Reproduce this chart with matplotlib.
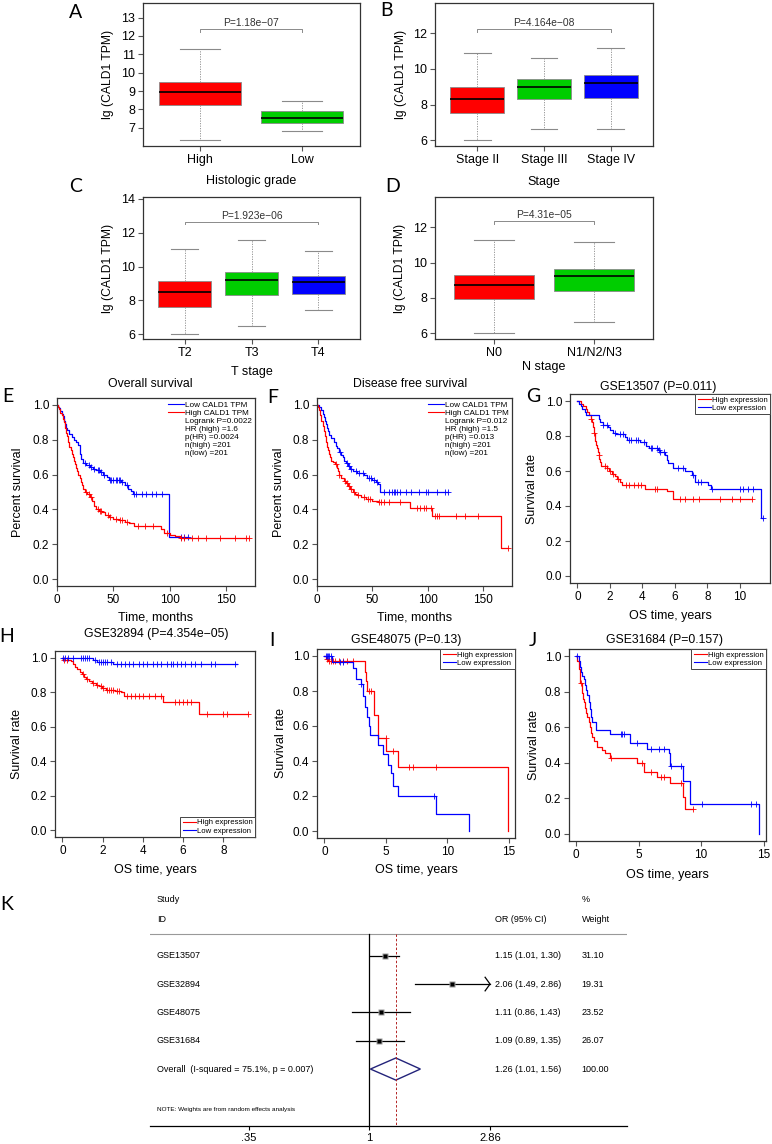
import numpy as np
import matplotlib
matplotlib.use("Agg")
import matplotlib.pyplot as plt
from matplotlib.lines import Line2D
from matplotlib.patches import Polygon
from matplotlib.transforms import blended_transform_factory

plt.rcParams['font.family'] = ['Liberation Sans', 'DejaVu Sans']

W, H = 772, 1144
fig = plt.figure(figsize=(W / 100, H / 100), dpi=100)


def add_ax(l, t, r, b):
    return fig.add_axes([l / W, 1 - b / H, (r - l) / W, (b - t) / H])


# ---------------- box plot data (A-D) ----------------
A_labels = ['High', 'Low']
A_lo = [6.35, 6.80]
A_q1 = [8.22, 7.27]
A_med = [8.95, 7.53]
A_q3 = [9.50, 7.93]
A_hi = [11.27, 8.48]

B_labels = ['Stage II', 'Stage III', 'Stage IV']
B_lo = [6.0, 6.62, 6.62]
B_q1 = [7.53, 8.29, 8.36]
B_med = [8.32, 9.0, 9.24]
B_q3 = [8.98, 9.43, 9.65]
B_hi = [10.88, 10.6, 11.17]

C_labels = ['T2', 'T3', 'T4']
C_lo = [6.0, 6.47, 7.44]
C_q1 = [7.62, 8.33, 8.37]
C_med = [8.51, 9.2, 9.1]
C_q3 = [9.12, 9.65, 9.47]
C_hi = [11.03, 11.54, 10.91]

D_labels = ['N0', 'N1/N2/N3']
D_lo = [6.0, 6.6]
D_q1 = [7.91, 8.36]
D_med = [8.73, 9.24]
D_q3 = [9.3, 9.65]
D_hi = [11.26, 11.17]

box_colors = ['#FF0000', '#00CD00', '#0000FF']

# ---------------- survival data (E-J): step times, survival after step, censor times ----------------
E_low_t = [1, 2, 3, 4, 5, 6, 7, 8, 9, 11, 13, 15, 17, 19, 20, 21, 23, 26, 29, 32, 35, 38, 41, 44, 46, 57, 60, 63, 66, 67, 99]
E_low_s = [0.99, 0.98, 0.965, 0.95, 0.935, 0.91, 0.89, 0.87, 0.855, 0.835, 0.815, 0.80, 0.785, 0.77, 0.72, 0.69, 0.665,
           0.655, 0.645, 0.635, 0.625, 0.615, 0.60, 0.585, 0.568, 0.555, 0.54, 0.52, 0.505, 0.488, 0.243]
E_low_c = [25, 28, 30, 33, 36, 37, 39, 42, 47, 48, 50, 52, 53, 55, 56, 58, 62, 68, 70, 75, 79, 84, 88, 93, 110, 113, 116.6]
E_high_t = [1, 2, 3, 4, 5, 6, 7, 8, 9, 10, 11, 12, 13, 14, 15, 16, 17, 18, 19, 20, 21, 22, 23, 25, 27, 29, 31, 33, 35, 37,
            40, 43, 46, 50, 55, 60, 64, 68, 92, 95, 100, 105, 109]
E_high_s = [0.99, 0.975, 0.955, 0.94, 0.92, 0.90, 0.87, 0.84, 0.82, 0.79, 0.76, 0.74, 0.72, 0.70, 0.68, 0.66, 0.64, 0.62,
            0.60, 0.58, 0.56, 0.54, 0.52, 0.50, 0.49, 0.47, 0.45, 0.42, 0.40, 0.39, 0.385, 0.37, 0.355, 0.345, 0.34, 0.33,
            0.32, 0.306, 0.29, 0.265, 0.255, 0.245, 0.238]
E_high_c = [26, 28, 30, 36, 38, 39, 45, 47, 52, 56, 58, 62, 72, 78, 85, 98, 110, 113, 120, 125, 132, 145, 158, 168, 170]
E_legend = ['Low CALD1 TPM', 'High CALD1 TPM', 'Logrank P=0.0022', 'HR (high) =1.6', 'p(HR) =0.0024',
            'n(high) =201', 'n(low) =201']

F_low_t = [2, 4, 5, 6, 7, 8, 9, 10, 11, 13, 15, 17, 18, 20, 22, 23, 24, 26, 28, 30, 32, 36, 42, 45, 50, 53, 55, 57]
F_low_s = [0.99, 0.97, 0.95, 0.93, 0.91, 0.89, 0.87, 0.85, 0.83, 0.81, 0.79, 0.765, 0.75, 0.73, 0.715, 0.70, 0.68, 0.665,
           0.65, 0.635, 0.62, 0.61, 0.595, 0.58, 0.57, 0.56, 0.545, 0.50]
F_low_c = [21, 27, 29, 31, 35, 38, 41, 47, 49, 51, 54, 60, 65, 68, 69, 70, 72, 75, 80, 85, 92, 98, 100, 108, 115, 118]
F_high_t = [1, 2, 3, 4, 5, 6, 7, 8, 9, 10, 11, 12, 13, 14, 16, 18, 19, 20, 22, 24, 26, 28, 30, 32, 34, 36, 40, 44, 50, 55,
            84, 104, 166]
F_high_s = [0.99, 0.97, 0.94, 0.91, 0.88, 0.85, 0.82, 0.79, 0.76, 0.74, 0.72, 0.70, 0.68, 0.67, 0.66, 0.64, 0.62, 0.60,
            0.58, 0.565, 0.55, 0.535, 0.52, 0.50, 0.49, 0.48, 0.47, 0.46, 0.45, 0.44, 0.41, 0.365, 0.18]
F_high_c = [17, 20, 25, 27, 29, 31, 33, 37, 42, 46, 48, 56, 58, 60, 65, 75, 90, 93, 96, 98, 103, 106, 108, 110, 125, 133,
            145, 172]
F_legend = ['Low CALD1 TPM', 'High CALD1 TPM', 'Logrank P=0.012', 'HR (high) =1.5', 'p(HR) =0.013',
            'n(high) =201', 'n(low) =201']

G_high_t = [0.2, 0.35, 0.5, 0.6, 0.72, 0.82, 0.9, 0.95, 1.0, 1.05, 1.1, 1.15, 1.2, 1.25, 1.3, 1.35, 1.4, 1.45, 1.8, 1.95,
            2.1, 2.3, 2.45, 2.6, 2.75, 4.15, 5.5, 5.9]
G_high_s = [0.985, 0.97, 0.955, 0.94, 0.92, 0.90, 0.88, 0.85, 0.82, 0.79, 0.77, 0.75, 0.73, 0.71, 0.69, 0.67, 0.65, 0.63,
            0.615, 0.60, 0.585, 0.57, 0.555, 0.54, 0.52, 0.50, 0.485, 0.44]
G_high_c = [0.85, 1.0, 1.3, 1.7, 1.8, 2.0, 2.2, 2.5, 3.0, 3.2, 3.5, 3.7, 3.9, 4.8, 4.9, 6.3, 6.6, 7.1, 7.5, 8.8, 9.5, 10.0,
            10.75]
G_low_t = [0.1, 0.2, 0.3, 0.45, 0.55, 1.3, 1.4, 1.55, 1.9, 2.0, 2.2, 2.35, 2.95, 3.05, 3.85, 4.25, 4.4, 4.95, 5.1, 5.4,
           5.5, 5.6, 5.9, 6.6, 7.05, 7.25, 8.05, 8.2, 11.3]
G_low_s = [0.985, 0.97, 0.955, 0.94, 0.92, 0.90, 0.88, 0.865, 0.85, 0.835, 0.82, 0.81, 0.795, 0.78, 0.765, 0.745, 0.73,
           0.72, 0.71, 0.69, 0.665, 0.645, 0.62, 0.60, 0.575, 0.54, 0.52, 0.50, 0.33]
G_low_c = [1.6, 1.8, 2.3, 2.6, 2.8, 3.2, 3.3, 3.6, 3.7, 4.1, 4.5, 4.6, 4.9, 5.0, 5.1, 5.3, 6.2, 6.5, 7.1, 7.4, 7.6, 8.3,
           10.0, 10.2, 10.5, 10.8, 11.45]

H_high_t = [0.05, 0.45, 0.52, 0.6, 0.7, 0.85, 0.95, 1.05, 1.15, 1.3, 1.45, 1.65, 1.8, 1.95, 2.15, 2.6, 2.9, 3.05, 5.0, 6.8]
H_high_s = [0.99, 0.98, 0.965, 0.95, 0.935, 0.92, 0.905, 0.89, 0.875, 0.865, 0.855, 0.845, 0.835, 0.825, 0.815, 0.81,
            0.80, 0.78, 0.745, 0.672]
H_high_c = [0.1, 0.25, 1.0, 1.2, 1.5, 1.7, 1.9, 2.0, 2.2, 2.3, 2.4, 2.5, 2.7, 2.8, 3.2, 3.4, 3.6, 3.8, 4.0, 4.3, 4.6, 4.9,
            5.6, 5.8, 6.0, 6.2, 6.4, 7.2, 8.0, 8.2, 9.2]
H_low_t = [1.5, 1.7, 2.5]
H_low_s = [0.985, 0.975, 0.962]
H_low_c = [0.05, 0.15, 0.3, 0.5, 0.9, 1.0, 1.1, 1.2, 1.3, 1.6, 1.8, 1.9, 2.0, 2.1, 2.2, 2.4, 2.7, 2.9, 3.1, 3.3, 3.5, 3.8,
           4.0, 4.2, 4.5, 4.7, 4.9, 5.2, 5.4, 5.5, 5.7, 5.9, 6.1, 6.4, 6.6, 6.9, 7.4, 7.6, 8.6]

I_high_t = [0.15, 0.3, 3.3, 3.4, 3.5, 4.0, 4.35, 5.05, 6.0, 14.95]
I_high_s = [0.985, 0.97, 0.91, 0.86, 0.80, 0.665, 0.53, 0.46, 0.365, 0.0]
I_high_c = [0.2, 0.4, 0.5, 0.7, 0.9, 1.2, 1.5, 1.8, 2.3, 3.6, 3.8, 5.0, 5.6, 6.9, 7.2, 9.1]
I_low_t = [0.6, 2.35, 2.55, 3.0, 3.15, 3.3, 3.45, 3.6, 3.75, 4.35, 4.8, 5.2, 5.45, 5.6, 5.95, 9.1, 11.75]
I_low_s = [0.965, 0.93, 0.87, 0.84, 0.77, 0.71, 0.65, 0.60, 0.55, 0.49, 0.44, 0.38, 0.33, 0.26, 0.20, 0.10, 0.0]
I_low_c = [0.1, 0.2, 0.3, 0.4, 0.5, 1.3, 1.5, 3.0, 8.9]

J_high_t = [0.1, 0.2, 0.3, 0.45, 0.55, 0.6, 0.7, 0.8, 0.9, 1.0, 1.1, 1.15, 1.25, 1.4, 1.65, 2.05, 2.3, 2.7, 4.9, 5.4,
            6.5, 7.5, 8.55, 8.7]
J_high_s = [0.97, 0.93, 0.85, 0.79, 0.76, 0.74, 0.71, 0.68, 0.66, 0.63, 0.60, 0.57, 0.545, 0.52, 0.49, 0.47, 0.455, 0.425,
            0.40, 0.35, 0.32, 0.285, 0.21, 0.14]
J_high_c = [0.35, 2.8, 5.3, 6.0, 6.8, 7.0, 8.4, 9.34]
J_low_t = [0.2, 0.3, 0.4, 0.5, 0.6, 0.7, 0.8, 0.9, 1.0, 1.1, 1.15, 1.3, 1.55, 2.7, 4.3, 5.65, 7.4, 7.55, 8.55, 9.15, 14.6]
J_low_s = [0.97, 0.94, 0.91, 0.89, 0.87, 0.84, 0.81, 0.78, 0.74, 0.70, 0.66, 0.63, 0.586, 0.563, 0.51, 0.48, 0.455, 0.38,
           0.295, 0.168, 0.0]
J_low_c = [0.1, 3.6, 3.7, 3.8, 4.9, 6.0, 6.6, 7.0, 7.6, 8.4, 10.1, 14.0, 14.4]

# ---------------- forest plot data (K) ----------------
K_studies = ['GSE13507', 'GSE32894', 'GSE48075', 'GSE31684']
K_or = [1.15, 2.06, 1.11, 1.09]
K_lo = [1.01, 1.49, 0.86, 0.89]
K_hi = [1.30, 2.86, 1.43, 1.35]
K_weight = ['31.10', '19.31', '23.52', '26.07']
K_overall = [1.26, 1.01, 1.56]
K_overall_label = 'Overall  (I-squared = 75.1%, p = 0.007)'
K_ticks = [0.35, 1, 2.86]
K_ticklabels = ['.35', '1', '2.86']

# ---------------- drawing helpers ----------------
frame_col = '#333333'


def style_frame(ax, fs):
    for s in ax.spines.values():
        s.set_color(frame_col)
        s.set_linewidth(0.9)
    ax.tick_params(direction='out', length=3.5, width=0.8, color='#555555', labelsize=fs, pad=2)


def box_panel(ax, labels, lo, q1, med, q3, hi, pval, ybr, ylim, xlim, yticks, xlabel, lx, ly):
    stats = [dict(whislo=lo[i], q1=q1[i], med=med[i], q3=q3[i], whishi=hi[i], fliers=[])
             for i in range(len(labels))]
    pos = list(range(1, len(labels) + 1))
    bp = ax.bxp(stats, positions=pos, widths=0.8, patch_artist=True, capwidths=0.4,
                boxprops=dict(edgecolor='#8a8a8a', linewidth=0.6),
                whiskerprops=dict(color='#8a8a8a', linewidth=0.6, linestyle=(0, (1.5, 1.5))),
                capprops=dict(color='#8a8a8a', linewidth=0.8),
                medianprops=dict(color='black', linewidth=1.2))
    for patch, c in zip(bp['boxes'], box_colors):
        patch.set_facecolor(c)
    x1, x2 = pos[0], pos[-1]
    ax.plot([x1, x1, x2, x2], [ybr - 0.16, ybr, ybr, ybr - 0.16], color='#8a8a8a', lw=0.7)
    ax.text((x1 + x2) / 2, ybr + 0.06, pval, ha='center', va='bottom', fontsize=7.4, color='#333333')
    ax.set_xlim(*xlim)
    ax.set_ylim(*ylim)
    ax.set_yticks(yticks)
    ax.set_xticks(pos)
    ax.set_xticklabels(labels)
    ax.set_ylabel('lg (CALD1 TPM)', fontsize=8.7)
    ax.set_xlabel(xlabel, fontsize=9)
    ax.yaxis.set_label_coords(lx, 0.5)
    ax.xaxis.set_label_coords(0.5, ly)
    style_frame(ax, 9)


def km(ax, t, s, cens, t_end, color):
    xs = [0] + list(t) + [t_end]
    ys = [1.0] + list(s) + [s[-1]]
    ax.step(xs, ys, where='post', color=color, lw=0.9)
    idx = np.searchsorted(np.array(t), np.array(cens), side='right')
    cy = [1.0 if i == 0 else s[i - 1] for i in idx]
    ax.plot(cens, cy, linestyle='none', marker='+', ms=4.5, mew=0.6, color=color)


def km_frame(ax, xlim, xticks, xlabel, ylabel, lx, ly, title=None, tx=None, ty=None):
    ax.set_xlim(*xlim)
    ax.set_ylim(-0.04, 1.04)
    ax.set_xticks(xticks)
    ax.set_yticks([0, 0.2, 0.4, 0.6, 0.8, 1.0])
    ax.set_yticklabels(['0.0', '0.2', '0.4', '0.6', '0.8', '1.0'])
    ax.set_xlabel(xlabel, fontsize=9)
    ax.set_ylabel(ylabel, fontsize=9)
    ax.yaxis.set_label_coords(lx, 0.5)
    ax.xaxis.set_label_coords(0.5, ly)
    style_frame(ax, 8.5)
    if title:
        fig.text(tx / W, 1 - ty / H, title, ha='center', va='center', fontsize=8.8)


def gepia_legend(ax, labels):
    handles = [Line2D([], [], color='#0000FF', lw=0.8), Line2D([], [], color='#FF0000', lw=0.8)]
    handles += [Line2D([], [], color='none')] * (len(labels) - 2)
    ax.legend(handles, labels, loc='upper right', frameon=False, fontsize=5.9, handlelength=2.0,
              handletextpad=0.15, labelspacing=0.05, borderpad=0.1, borderaxespad=0.25)


def geo_legend(ax, loc):
    handles = [Line2D([], [], color='#FF0000', lw=0.8), Line2D([], [], color='#0000FF', lw=0.8)]
    leg = ax.legend(handles, ['High expression', 'Low expression'], loc=loc, frameon=True, fancybox=False,
                    edgecolor='#444444', framealpha=1, fontsize=5.6, handlelength=1.7, handletextpad=0.15,
                    labelspacing=0.1, borderpad=0.3, borderaxespad=0)
    leg.get_frame().set_linewidth(0.7)


# ---------------- A-D ----------------
axA = add_ax(143, 3, 360, 146)
box_panel(axA, A_labels, A_lo, A_q1, A_med, A_q3, A_hi, 'P=1.18e\u221207', 12.4, (6.0, 13.8), (0.44, 2.57),
          range(7, 14), 'Histologic grade', -0.135, -0.20)
axB = add_ax(435, 3, 653, 146)
box_panel(axB, B_labels, B_lo, B_q1, B_med, B_q3, B_hi, 'P=4.164e\u221208', 12.26, (5.68, 13.7), (0.37, 3.63),
          [6, 8, 10, 12], 'Stage', -0.13, -0.21)
axC = add_ax(143, 197, 360, 339)
box_panel(axC, C_labels, C_lo, C_q1, C_med, C_q3, C_hi, 'P=1.923e\u221206', 12.65, (5.73, 14.1), (0.38, 3.62),
          [6, 8, 10, 12, 14], 'T stage', -0.133, -0.19)
axD = add_ax(435, 197, 653, 339)
box_panel(axD, D_labels, D_lo, D_q1, D_med, D_q3, D_hi, 'P=4.31e\u221205', 12.38, (5.66, 13.73), (0.41, 2.59),
          [6, 8, 10, 12], 'N stage', -0.132, -0.155)

# ---------------- E-F ----------------
axE = add_ax(57, 398, 255, 586)
km(axE, E_low_t, E_low_s, E_low_c, 116.6, '#0000FF')
km(axE, E_high_t, E_high_s, E_high_c, 170, '#FF0000')
km_frame(axE, (0, 175.7), [0, 50, 100, 150], 'Time, months', 'Percent survival', -0.169, -0.135,
         'Overall survival', 150, 384)
gepia_legend(axE, E_legend)

axF = add_ax(317, 398, 512, 586)
km(axF, F_low_t, F_low_s, F_low_c, 118, '#0000FF')
km(axF, F_high_t, F_high_s, F_high_c, 172, '#FF0000')
km_frame(axF, (0, 175.7), [0, 50, 100, 150], 'Time, months', 'Percent survival', -0.163, -0.138,
         'Disease free survival', 410, 384)
gepia_legend(axF, F_legend)

# ---------------- G-J ----------------
axG = add_ax(570, 394, 770, 583)
km(axG, G_high_t, G_high_s, G_high_c, 10.75, '#FF0000')
km(axG, G_low_t, G_low_s, G_low_c, 11.45, '#0000FF')
km_frame(axG, (-0.46, 11.86), [0, 2, 4, 6, 8, 10], 'OS time, years', 'Survival rate', -0.161, -0.145,
         'GSE13507 (P=0.011)', 658, 387)
geo_legend(axG, 'upper right')

axH = add_ax(55, 651, 255, 837)
km(axH, H_high_t, H_high_s, H_high_c, 9.2, '#FF0000')
km(axH, H_low_t, H_low_s, H_low_c, 8.67, '#0000FF')
km_frame(axH, (-0.37, 9.57), [0, 2, 4, 6, 8], 'OS time, years', 'Survival rate', -0.161, -0.145,
         'GSE32894 (P=4.354e\u221205)', 156, 634)
geo_legend(axH, 'lower right')

axI = add_ax(317, 649, 515, 838)
km(axI, I_high_t, I_high_s, I_high_c, 14.95, '#FF0000')
km(axI, I_low_t, I_low_s, I_low_c, 11.75, '#0000FF')
km_frame(axI, (-0.6, 15.5), [0, 5, 10, 15], 'OS time, years', 'Survival rate', -0.152, -0.14,
         'GSE48075 (P=0.13)', 406, 640)
geo_legend(axI, 'upper right')

axJ = add_ax(569, 649, 766, 841)
km(axJ, J_high_t, J_high_s, J_high_c, 9.34, '#FF0000')
km(axJ, J_low_t, J_low_s, J_low_c, 14.6, '#0000FF')
km_frame(axJ, (-0.58, 15.2), [0, 5, 10, 15], 'OS time, years', 'Survival rate', -0.148, -0.144,
         'GSE31684 (P=0.157)', 665, 640)
geo_legend(axJ, 'upper right')

# ---------------- K forest plot ----------------
kf = ['Liberation Sans', 'DejaVu Sans']
# rows: y = row index, top of axes at -2.5, bottom axis line at 6
axK = add_ax(149.6, 884.9, 627, 1125.7)
axK.set_xscale('log')
axK.set_xlim(0.1478, 9.42)
axK.set_ylim(6.0, -2.5)
for s in ['top', 'left', 'right']:
    axK.spines[s].set_visible(False)
axK.spines['bottom'].set_linewidth(0.9)
axK.set_yticks([])
axK.set_xticks(K_ticks)
axK.set_xticklabels(K_ticklabels, family=kf)
axK.minorticks_off()
axK.tick_params(axis='x', direction='out', length=3, width=0.8, labelsize=8, pad=2)
tr = blended_transform_factory(axK.transAxes, axK.transData)


def kx(px):
    return (px - 149.6) / (627 - 149.6)


axK.axhline(-0.75, color='#999999', lw=0.8)
axK.plot([1, 1], [-0.75, 6], color='black', lw=0.9)
axK.plot([K_overall[0], K_overall[0]], [-0.75, 6], color='#B22222', lw=0.7, linestyle=(0, (2.5, 2)))

axK.text(kx(156.7), -1.97, 'Study', fontsize=6.5, family=kf, va='center', transform=tr)
axK.text(kx(156.7), -1.27, 'ID', fontsize=6.5, family=kf, va='center', transform=tr)
axK.text(kx(495), -1.27, 'OR (95% CI)', fontsize=6.5, family=kf, va='center', transform=tr)
axK.text(kx(581.5), -1.97, '%', fontsize=6.5, family=kf, va='center', transform=tr)
axK.text(kx(581.5), -1.27, 'Weight', fontsize=6.5, family=kf, va='center', transform=tr)

for i, name in enumerate(K_studies):
    axK.plot([K_lo[i], K_hi[i]], [i, i], color='black', lw=0.9)
    axK.plot(K_or[i], i, marker='s', ms=4.5, color='#9a9a9a', mec='none')
    axK.plot(K_or[i], i, marker='s', ms=2.2, color='black', mec='none')
    axK.text(kx(156.7), i, name, fontsize=6.5, family=kf, va='center', transform=tr)
    axK.text(kx(495), i, '%.2f (%.2f, %.2f)' % (K_or[i], K_lo[i], K_hi[i]), fontsize=6.5, family=kf,
             va='center', transform=tr)
    axK.text(kx(581.5), i, K_weight[i], fontsize=6.5, family=kf, va='center', transform=tr)
    if K_hi[i] >= 2.86:
        axK.plot([2.74, 2.86, 2.74], [i - 0.24, i, i + 0.24], color='black', lw=0.9)

r = len(K_studies)
diam = Polygon([[K_overall[1], r], [K_overall[0], r - 0.39], [K_overall[2], r], [K_overall[0], r + 0.39]],
               closed=True, facecolor='none', edgecolor='#23237a', lw=1.0)
axK.add_patch(diam)
axK.text(kx(156.7), r, K_overall_label, fontsize=6.5, family=kf, va='center', transform=tr)
axK.text(kx(495), r, '%.2f (%.2f, %.2f)' % tuple(K_overall), fontsize=6.5, family=kf, va='center', transform=tr)
axK.text(kx(581.5), r, '100.00', fontsize=6.5, family=kf, va='center', transform=tr)
axK.text(kx(156.7), 5.42, 'NOTE: Weights are from random effects analysis', fontsize=4.6, family=kf,
         va='center', transform=tr)

# ---------------- panel letters ----------------
letters = [('A', 76, 12), ('B', 386, 11), ('C', 76, 186), ('D', 393, 187), ('E', 8, 396), ('F', 273, 397),
           ('G', 533, 396), ('H', 7, 636), ('I', 272, 641), ('J', 533, 641), ('K', 7, 905)]
for lab, x, y in letters:
    fig.text(x / W, 1 - y / H, lab, fontsize=14, family=['Lato', 'DejaVu Sans'], ha='center', va='center')

fig.savefig('out.png', dpi=100)
